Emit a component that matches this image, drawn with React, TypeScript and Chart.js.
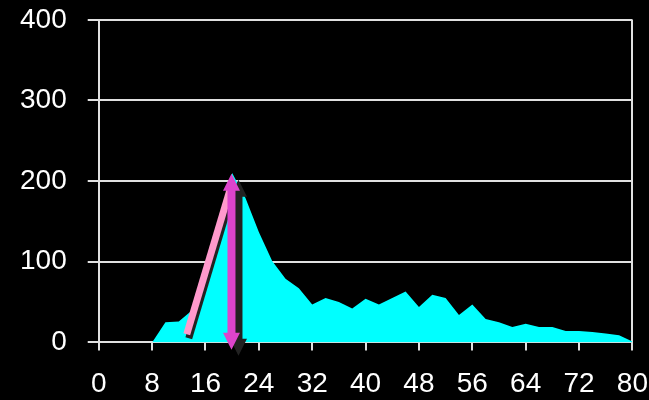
import React, { useEffect, useRef } from "react";
import { Chart, registerables } from "chart.js";

Chart.register(...registerables);

// Data
const X_VALUES = [0, 2, 4, 6, 8, 10, 12, 14, 16, 18, 20, 22, 24, 26, 28, 30, 32, 34, 36, 38, 40,
  42, 44, 46, 48, 50, 52, 54, 56, 58, 60, 62, 64, 66, 68, 70, 72, 74, 76, 78, 80];
const COUNTS = [0, 0, 0, 0, 0, 25, 26, 40, 90, 150, 210, 179, 137, 101, 79, 67, 47, 55, 50, 42, 54,
  47, 55, 63, 44, 59, 55, 34, 47, 29, 25, 19, 23, 19, 19, 14, 14, 13, 11, 9, 1];

const X_MIN = 0;
const X_MAX = 80;
const X_STEP = 8;
const Y_MIN = 0;
const Y_MAX = 400;
const Y_STEP = 100;

// Annotation positions in data units
const PINK_LINE_FROM = [13.2, 10];
const PINK_LINE_TO = [19.7, 190];
const ARROW_X = 19.9;
const ARROW_TOP = 209;
const ARROW_BOTTOM = -9;

const FONT = { family: "'Liberation Sans', Arial, sans-serif", size: 28 };

// canvas is a little larger than the window so the plot area sits where the reference has it
const CANVAS_W = 665;
const CANVAS_H = 418;
const CANVAS_TOP = -18;

function arrowPath(ctx: CanvasRenderingContext2D, x: number, y1: number, y2: number) {
  const sw = 4;
  const hw = 8.5;
  const hl = 17;
  ctx.beginPath();
  ctx.moveTo(x, y1);
  ctx.lineTo(x + hw, y1 + hl);
  ctx.lineTo(x + sw, y1 + hl);
  ctx.lineTo(x + sw, y2 - hl);
  ctx.lineTo(x + hw, y2 - hl);
  ctx.lineTo(x, y2);
  ctx.lineTo(x - hw, y2 - hl);
  ctx.lineTo(x - sw, y2 - hl);
  ctx.lineTo(x - sw, y1 + hl);
  ctx.lineTo(x - hw, y1 + hl);
  ctx.closePath();
}

const annotationPlugin = {
  id: "annotations",
  afterDraw(chart: any) {
    const ctx = chart.ctx as CanvasRenderingContext2D;
    const xs = chart.scales.x;
    const ys = chart.scales.y;
    ctx.save();
    const px1 = xs.getPixelForValue(PINK_LINE_FROM[0]);
    const py1 = ys.getPixelForValue(PINK_LINE_FROM[1]);
    const px2 = xs.getPixelForValue(PINK_LINE_TO[0]);
    const py2 = ys.getPixelForValue(PINK_LINE_TO[1]);
    ctx.lineCap = "butt";
    ctx.lineWidth = 7;
    ctx.strokeStyle = "#222222";
    ctx.beginPath();
    ctx.moveTo(px1 + 2, py1 + 4);
    ctx.lineTo(px2 + 2, py2 + 4);
    ctx.stroke();
    ctx.strokeStyle = "#ff99cc";
    ctx.beginPath();
    ctx.moveTo(px1, py1);
    ctx.lineTo(px2, py2);
    ctx.stroke();

    const ax = xs.getPixelForValue(ARROW_X);
    const at = ys.getPixelForValue(ARROW_TOP);
    const ab = ys.getPixelForValue(ARROW_BOTTOM);
    ctx.fillStyle = "#222222";
    arrowPath(ctx, ax + 7, at + 6, ab + 6);
    ctx.fill();
    ctx.fillStyle = "#dd44cc";
    arrowPath(ctx, ax, at, ab);
    ctx.fill();
    ctx.restore();
  },
};

export default function App() {
  const ref = useRef<HTMLCanvasElement>(null);
  useEffect(() => {
    document.body.style.margin = "0";
    document.body.style.background = "#000";
    document.body.style.overflow = "hidden";
    const points = X_VALUES.map((x, i) => ({ x, y: COUNTS[i] }));
    const chart = new Chart(ref.current!, {
      type: "line",
      data: {
        datasets: [
          {
            data: points,
            fill: "origin",
            backgroundColor: "#00ffff",
            borderColor: "#00ffff",
            borderWidth: 0,
            pointRadius: 0,
            tension: 0,
          },
        ],
      },
      options: {
        animation: false,
        responsive: false,
        events: [],
        layout: { padding: { left: -1, right: 2, top: 3, bottom: -18 } },
        plugins: { legend: { display: false }, tooltip: { enabled: false } },
        scales: {
          x: {
            type: "linear",
            min: X_MIN,
            max: X_MAX,
            ticks: { stepSize: X_STEP, color: "#ffffff", font: FONT, padding: 17, maxRotation: 0, autoSkip: false },
            grid: {
              drawOnChartArea: true,
              color: (c: any) => (c.tick && c.tick.value === X_MAX ? "#e0e0e0" : "rgba(0,0,0,0)"),
              tickColor: "#e0e0e0",
              tickLength: 8,
              lineWidth: 2,
            },
            border: { display: true, color: "#e0e0e0", width: 2 },
          },
          y: {
            min: Y_MIN,
            max: Y_MAX,
            ticks: { stepSize: Y_STEP, color: "#ffffff", font: FONT, padding: 21 },
            grid: { color: "#e0e0e0", tickColor: "#e0e0e0", tickLength: 11, lineWidth: 2 },
            border: { display: true, color: "#e0e0e0", width: 2 },
          },
        },
      },
      plugins: [annotationPlugin],
    });
    return () => chart.destroy();
  }, []);
  return (
    <div style={{ position: "absolute", left: 0, top: 0, width: 649, height: 400, background: "#000", overflow: "hidden" }}>
      <canvas
        ref={ref}
        width={CANVAS_W}
        height={CANVAS_H}
        style={{ position: "absolute", left: 0, top: CANVAS_TOP }}
      />
    </div>
  );
}
